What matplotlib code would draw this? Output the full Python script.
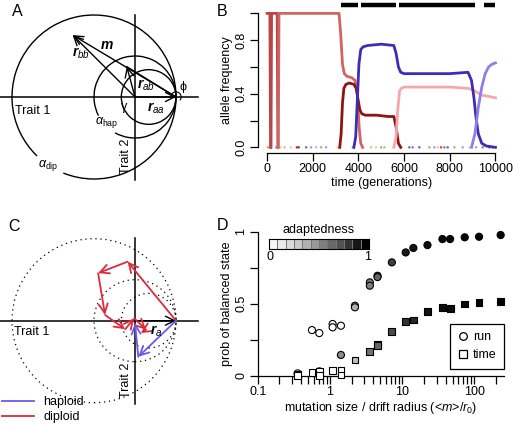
import numpy as np
import matplotlib
matplotlib.use("Agg")
import matplotlib.pyplot as plt
from matplotlib.patches import Arc, Circle
from matplotlib.lines import Line2D

plt.rcParams['font.family'] = ['Liberation Sans', 'DejaVu Sans']
plt.rcParams['mathtext.fontset'] = 'custom'
plt.rcParams['mathtext.rm'] = 'Liberation Sans'
plt.rcParams['mathtext.it'] = 'Liberation Sans:italic'
plt.rcParams['mathtext.bf'] = 'Liberation Sans:italic:bold'
FS = 8.5

# ---------------- data ----------------
# Panel A geometry (trait space, unit = |r_aa|)
r_aa = (1.0, 0.0)
r_bb = (-1.52, 1.51)
r_ab = (-0.20, 0.74)
circle_centers = [(-1.0, 0.0), (0.0, 0.0), (1/3, 0.0)]
circle_radii = [2.0, 1.0, 2/3]

# Panel B allele trajectories
early1_t = [0, 120, 150]
early1_f = [1, 1, 0]
early2_t = [170, 195, 440, 470]
early2_f = [0, 1, 1, 0]
main_t = [490, 520, 3150, 3220, 3300, 3380, 3500, 3700, 3850, 3950, 4030, 4100, 4180]
main_f = [0, 1, 1, 0.85, 0.62, 0.55, 0.53, 0.52, 0.50, 0.40, 0.15, 0.03, 0]
dark_t = [3180, 3240, 3300, 3360, 3450, 3600, 3800, 3900, 3980, 4060, 4150, 4300, 4800, 5300, 5550, 5650, 5750, 5850]
dark_f = [0, 0.1, 0.33, 0.44, 0.47, 0.48, 0.47, 0.44, 0.36, 0.28, 0.25, 0.24, 0.24, 0.23, 0.23, 0.15, 0.03, 0]
blue_t = [3800, 3880, 3950, 4020, 4100, 4200, 4400, 5000, 5550, 5650, 5750, 5850, 6000, 7000, 8000, 8800, 8950, 9050, 9150, 9250, 9400, 9600, 10000]
blue_f = [0, 0.08, 0.35, 0.62, 0.73, 0.75, 0.76, 0.77, 0.76, 0.70, 0.60, 0.56, 0.55, 0.55, 0.55, 0.56, 0.50, 0.38, 0.22, 0.10, 0.03, 0.01, 0]
pink_t = [5550, 5650, 5720, 5800, 5880, 6000, 7000, 8000, 8800, 9000, 9200, 9400, 9700, 10000]
pink_f = [0, 0.08, 0.28, 0.42, 0.44, 0.45, 0.45, 0.45, 0.44, 0.43, 0.41, 0.39, 0.38, 0.37]
lav_t = [8950, 9100, 9250, 9400, 9550, 9700, 9850, 10000]
lav_f = [0, 0.1, 0.3, 0.45, 0.55, 0.6, 0.62, 0.63]
balanced_start = [3240, 4120, 5780, 9500]
balanced_end = [3980, 5650, 9110, 10000]
dot_t = [29, 394, 600, 759, 1050, 1300, 1380, 1707, 1926, 2145, 2363, 2582, 3093, 3750, 4553, 4770,
         4990, 5135, 6229, 6375, 6667, 7105, 7324, 7470, 7616, 7762, 7908, 8200, 8565, 8857, 9149, 9440, 9732, 9878]
dot_colors = ['#9ab860', '#a898e0', '#e8d890', '#c8b0e0', '#e8d080', '#b03040', '#9a2030', '#6a60c8', '#a090e0',
              '#c0b8e8', '#9ab860', '#a898e0', '#e8d080', '#9ab860', '#f0b0b0', '#e8d080',
              '#9ab860', '#a0c870', '#6060c0', '#8070d0', '#5060b0', '#9ab860', '#a898e0', '#e8d080', '#c04060',
              '#8070d0', '#6060c0', '#9ab860', '#a0a0d0', '#e8d080', '#a898e0', '#8070d0', '#5050a0', '#6060c0']

# Panel C trajectories (trait space)
dip_x = [1.0, -0.18, -0.90, -0.73, -0.24, -0.02, 0.27, 0.14]
dip_y = [0.0, 1.44, 1.16, 0.14, -0.21, 0.06, -0.22, -0.30]
hap_x = [1.0, 0.08, 0.0]
hap_y = [0.0, -0.88, -0.06]

# Panel D
run_x = [0.357, 0.564, 0.712, 0.712, 1.09, 1.09, 1.42, 1.42, 2.22, 2.22, 3.57, 3.57, 4.56, 4.56, 7.2, 11.2, 14.3, 22.4, 36.1, 46.1, 73.5, 116, 231]
run_y = [0.016, 0.317, 0.296, 0.03, 0.359, 0.336, 0.347, 0.144, 0.486, 0.475, 0.648, 0.625, 0.694, 0.685, 0.787, 0.856, 0.887, 0.907, 0.949, 0.949, 0.961, 0.965, 0.977]
run_adapt = [0.0, 0.0, 0.0, 0.25, 0.0, 0.0, 0.0, 0.45, 0.3, 0.3, 0.5, 0.5, 0.6, 0.6, 0.75, 0.9, 0.92, 0.95, 0.97, 0.97, 0.98, 0.99, 1.0]
time_x = [0.357, 0.357, 0.564, 0.712, 0.712, 1.09, 1.42, 1.42, 2.22, 3.57, 4.56, 4.56, 7.2, 11.2, 14.3, 22.4, 36.1, 46.1, 73.5, 116, 231]
time_y = [0.012, 0.0, 0.02, 0.03, 0.0, 0.035, 0.04, 0.005, 0.109, 0.167, 0.22, 0.21, 0.308, 0.377, 0.387, 0.444, 0.475, 0.468, 0.498, 0.509, 0.514]
time_adapt = [0.0, 0.0, 0.0, 0.0, 0.0, 0.0, 0.0, 0.0, 0.25, 0.55, 0.6, 0.6, 0.7, 0.8, 0.85, 0.92, 0.95, 0.95, 0.97, 0.98, 1.0]
adapt_levels = np.linspace(0, 1, 12)

# ---------------- figure ----------------
W, H = 513, 425
fig = plt.figure(figsize=(W/100, H/100), dpi=100)
S = 41.0  # px per trait unit

def pix_axes(x0, y0, x1, y1):
    return fig.add_axes([x0/W, 1 - y1/H, (x1-x0)/W, (y1-y0)/H])

def arrow(ax, tail, tip, color='black', lw=1.0):
    ax.annotate('', xy=tip, xytext=tail,
                arrowprops=dict(arrowstyle='->,head_length=0.5,head_width=0.25', color=color, lw=lw,
                                shrinkA=0, shrinkB=0, mutation_scale=13))

# ----- Panel A -----
axA = pix_axes(0, 0, 256, 212)
ox, oy = 135, 97
axA.set_xlim(-ox/S, (256-ox)/S)
axA.set_ylim(-(212-oy)/S, oy/S)
axA.axis('off')
axA.plot([-ox/S, (198-ox)/S], [0, 0], color='black', lw=1.1)
axA.plot([0, 0], [(oy-15)/S, -(180-oy)/S], color='black', lw=1.1)
gaps = [(248, 226+360), (241, 207+360), (0, 360)]
for (c, r, g) in zip(circle_centers, circle_radii, gaps):
    axA.add_patch(Arc(c, 2*r, 2*r, theta1=g[0], theta2=g[1], color='black', lw=1.0))
arrow(axA, (0, 0), r_bb)
arrow(axA, r_aa, r_bb)
arrow(axA, (0, 0), r_ab)
axA.plot([r_ab[0], r_aa[0]], [r_ab[1], r_aa[1]], color='black', lw=1.0)
arrow(axA, (0, 0), r_aa)
axA.add_patch(Arc(r_aa, 0.25, 0.25, theta1=-40, theta2=150, color='black', lw=0.8))
axA.text(-ox/S + 12/S, (oy-11)/S, 'A', fontsize=11.5, va='center', ha='left')
axA.text(-ox/S + 15/S, -(111-oy)/S, 'Trait 1', fontsize=FS+0.5, va='center', ha='left')
axA.text(-(135-126)/S, -(156-oy)/S, 'Trait 2', fontsize=FS+0.5, rotation=90, va='center', ha='center')
axA.text((81-ox)/S, (oy-53)/S, r'$\mathbf{r}_{bb}$', fontsize=10, va='center', ha='center')
axA.text((107-ox)/S, (oy-45)/S, r'$\mathbf{m}$', fontsize=10, va='center', ha='center')
axA.text((146-ox)/S, (oy-85)/S, r'$\mathbf{r}_{ab}$', fontsize=10, va='center', ha='center')
axA.text((156-ox)/S, (oy-108)/S, r'$\mathbf{r}_{aa}$', fontsize=10, va='center', ha='center')
axA.text((183-ox)/S, (oy-87)/S, 'ϕ', fontsize=FS+0.5, va='center', ha='center')
axA.text((124-ox)/S, (oy-107)/S, 'γ', fontsize=FS+0.5, va='center', ha='center')
axA.text((107-ox)/S, (oy-123)/S, r'$\alpha_{\rm hap}$', fontsize=FS+0.5, va='center', ha='center')
axA.text((48-ox)/S, (oy-166)/S, r'$\alpha_{\rm dip}$', fontsize=FS+0.5, va='center', ha='center')

# ----- Panel C -----
axC = pix_axes(0, 212, 256, 425)
cy = 320.7 - 212
axC.set_xlim(-ox/S, (256-ox)/S)
axC.set_ylim(-(213-cy)/S, cy/S)
axC.axis('off')
for (c, r) in zip(circle_centers, circle_radii):
    axC.add_patch(Circle(c, r, fill=False, ls=(0, (1, 3)), color='black', lw=0.9))
axC.plot([-ox/S, (198-ox)/S], [0, 0], color='black', lw=1.1)
axC.plot([0, 0], [(cy-26)/S, -(192-cy)/S], color='black', lw=1.1)
arrow(axC, (0, 0), r_aa)
red = '#dc2a3c'
blue = '#6a5ae6'
for i in range(len(dip_x)-1):
    arrow(axC, (dip_x[i], dip_y[i]), (dip_x[i+1], dip_y[i+1]), color=red, lw=1.3)
for i in range(len(hap_x)-1):
    arrow(axC, (hap_x[i], hap_y[i]), (hap_x[i+1], hap_y[i+1]), color=blue, lw=1.3)
axC.text(-ox/S + 8/S, (cy-15)/S, 'C', fontsize=11.5, va='center', ha='left')
axC.text(-ox/S + 14/S, -(332-320.7)/S, 'Trait 1', fontsize=FS+0.5, va='center', ha='left')
axC.text(-(135-126)/S, -(380-320.7)/S, 'Trait 2', fontsize=FS+0.5, rotation=90, va='center', ha='center')
axC.text((156-ox)/S, -(331-320.7)/S, r'$\mathbf{r}_{a}$', fontsize=10, va='center', ha='center')
leg_handles = [Line2D([], [], color=blue, lw=1.3), Line2D([], [], color=red, lw=1.3)]
axC.legend(leg_handles, ['haploid', 'diploid'], loc='lower left', bbox_to_anchor=(0.0, 0.0),
           frameon=False, fontsize=FS+0.5, handlelength=2.6, handletextpad=0.7, labelspacing=0.25,
           borderaxespad=0.15, borderpad=0.0)

# ----- Panel B -----
axB = pix_axes(258, 8, 504.6, 152.7)
axB.set_xlim(-400, 10400)
axB.set_ylim(-0.04, 1.04)
for sp in ['top', 'right']:
    axB.spines[sp].set_visible(False)
axB.spines['left'].set_bounds(0, 1)
axB.spines['bottom'].set_bounds(0, 10000)
for sp in ['left', 'bottom']:
    axB.spines[sp].set_linewidth(0.9)
axB.set_yticks([0, 0.2, 0.4, 0.6, 0.8, 1.0])
axB.set_yticklabels(['0.0', '', '0.4', '', '0.8', ''], rotation=90, va='center')
axB.set_xticks([0, 2000, 4000, 6000, 8000, 10000])
axB.set_xticklabels(['0', '2000', '4000', '6000', '8000', '10000'])
axB.tick_params(direction='out', length=5.5, width=0.9, labelsize=FS+0.5, pad=2)
axB.set_ylabel('allele frequency', fontsize=FS+0.5, labelpad=2)
axB.set_xlabel('time (generations)', fontsize=FS+0.5, labelpad=1)
axB.scatter(dot_t, np.zeros(len(dot_t)), s=3, c=dot_colors, zorder=1, linewidths=0)
axB.plot(early1_t, early1_f, color='#b94646', lw=2.0)
axB.plot(early2_t, early2_f, color='#b94646', lw=2.0)
axB.plot(main_t, main_f, color='#d06464', lw=2.0)
axB.plot(dark_t, dark_f, color='#8e1414', lw=2.0)
axB.plot(pink_t, pink_f, color='#f6a8a8', lw=2.0)
axB.plot(blue_t, blue_f, color='#3e2cb4', lw=2.0)
axB.plot(lav_t, lav_f, color='#8e7ee8', lw=2.0)
for s0, s1 in zip(balanced_start, balanced_end):
    axB.plot([s0, s1], [1.062, 1.062], color='black', lw=3.2, clip_on=False, solid_capstyle='butt')
fig.text(217/W, 1 - 11/H, 'B', fontsize=11.5, va='center', ha='left')

# ----- Panel D -----
axD = pix_axes(257.7, 231.7, 504, 375.7)
axD.set_xscale('log')
axD.set_xlim(0.1, 257)
axD.set_ylim(0, 1)
for sp in ['top', 'right']:
    axD.spines[sp].set_visible(False)
axD.spines['left'].set_linewidth(0.9)
axD.spines['bottom'].set_linewidth(0.9)
axD.set_yticks([0, 0.25, 0.5, 0.75, 1.0])
axD.set_yticklabels(['0', '', '0.5', '', '1'], rotation=90, va='center')
axD.set_xticks([0.1, 1, 10, 100])
axD.set_xticklabels(['0.1', '1', '10', '100'])
minor = [m * 10.0**e for e in (-1, 0, 1, 2) for m in range(2, 10) if m * 10.0**e < 257]
axD.set_xticks(minor, minor=True)
axD.set_xticklabels([], minor=True)
axD.tick_params(which='both', direction='out', length=5.5, width=0.9, labelsize=FS+0.5, pad=2)
axD.set_ylabel('prob of balanced state', fontsize=FS+0.5, labelpad=2)
axD.set_xlabel(r'mutation size / drift radius (<$m$>/$r_0$)', fontsize=FS+0.5, labelpad=1)
gray = lambda v: [(1 - a, 1 - a, 1 - a) for a in v]
axD.scatter(run_x, run_y, s=26, marker='o', c=gray(run_adapt), edgecolors='black', linewidths=0.8, clip_on=False, zorder=3)
axD.scatter(time_x, time_y, s=24, marker='s', c=gray(time_adapt), edgecolors='black', linewidths=0.8, clip_on=False, zorder=3)
lh = [Line2D([], [], ls='none', marker='o', mfc='white', mec='black', ms=5.5, mew=0.9),
      Line2D([], [], ls='none', marker='s', mfc='white', mec='black', ms=5.5, mew=0.9)]
leg = axD.legend(lh, ['run', 'time'], loc='lower right', bbox_to_anchor=(1.0, 0.047), fontsize=FS+0.5,
                 fancybox=False, edgecolor='black', framealpha=1, handlelength=0.8, handletextpad=0.4,
                 borderpad=0.6, labelspacing=0.5, borderaxespad=0)
leg.get_frame().set_linewidth(0.9)
fig.text(217/W, 1 - 226/H, 'D', fontsize=11.5, va='center', ha='left')
# adaptedness scale
axS = pix_axes(269, 239, 369, 249)
axS.pcolormesh(np.arange(len(adapt_levels)+1), [0, 1], adapt_levels[None, :], cmap='Greys', vmin=-0.08, vmax=1.0,
               edgecolors='#777777', linewidth=0.4)
axS.set_xticks([]); axS.set_yticks([])
for sp in axS.spines.values():
    sp.set_linewidth(0.8)
fig.text(319/W, 1 - 230/H, 'adaptedness', fontsize=FS+0.5, ha='center', va='center')
fig.text(270/W, 1 - 257/H, '0', fontsize=FS+0.5, ha='center', va='center')
fig.text(368/W, 1 - 257/H, '1', fontsize=FS+0.5, ha='center', va='center')

fig.savefig('out.png', dpi=100)
